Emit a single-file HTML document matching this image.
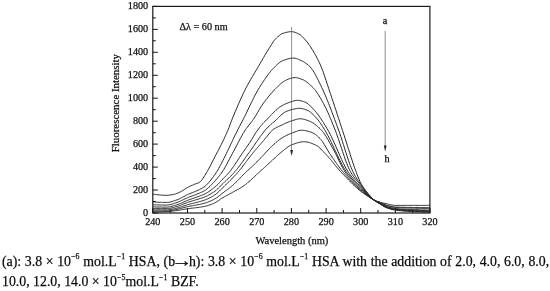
<!DOCTYPE html>
<html><head><meta charset="utf-8"><title>Fluorescence</title>
<style>
html,body{margin:0;padding:0;background:#fff;}
body{width:550px;height:291px;overflow:hidden;position:relative;font-family:"Liberation Serif",serif;color:#000;}
svg{position:absolute;left:0;top:0;}
svg text{font-family:"Liberation Serif",serif;font-size:10.2px;fill:#111;stroke:#111;stroke-width:0.25px;}
.cap{position:absolute;left:2px;width:640px;font-size:15.2px;line-height:20px;height:20px;white-space:nowrap;color:#0a0a0a;-webkit-text-stroke:0.25px #0a0a0a;transform-origin:0 0;transform:scaleX(0.91);}
.cap sup{font-size:8.6px;line-height:0;vertical-align:6.6px;margin:0 0.1px 0 0.2px;}
.ar{display:inline-block;transform:scaleX(1.5);-webkit-text-stroke:0.4px #0a0a0a;}
#l1{top:251px;word-spacing:0.2px;}
#l2{top:271.4px;word-spacing:0px;}
</style></head><body>
<svg width="550" height="291" viewBox="0 0 550 291">
<rect x="152.8" y="6.4" width="277.1" height="206.6" fill="none" stroke="#1a1a1a" stroke-width="1.2"/>
<g stroke="#111" stroke-width="1"><line x1="152.8" y1="213.0" x2="157.8" y2="213.0"/><line x1="152.8" y1="201.5" x2="155.8" y2="201.5"/><line x1="152.8" y1="190.0" x2="157.8" y2="190.0"/><line x1="152.8" y1="178.6" x2="155.8" y2="178.6"/><line x1="152.8" y1="167.1" x2="157.8" y2="167.1"/><line x1="152.8" y1="155.6" x2="155.8" y2="155.6"/><line x1="152.8" y1="144.1" x2="157.8" y2="144.1"/><line x1="152.8" y1="132.7" x2="155.8" y2="132.7"/><line x1="152.8" y1="121.2" x2="157.8" y2="121.2"/><line x1="152.8" y1="109.7" x2="155.8" y2="109.7"/><line x1="152.8" y1="98.2" x2="157.8" y2="98.2"/><line x1="152.8" y1="86.7" x2="155.8" y2="86.7"/><line x1="152.8" y1="75.3" x2="157.8" y2="75.3"/><line x1="152.8" y1="63.8" x2="155.8" y2="63.8"/><line x1="152.8" y1="52.3" x2="157.8" y2="52.3"/><line x1="152.8" y1="40.8" x2="155.8" y2="40.8"/><line x1="152.8" y1="29.4" x2="157.8" y2="29.4"/><line x1="152.8" y1="17.9" x2="155.8" y2="17.9"/><line x1="152.8" y1="6.4" x2="157.8" y2="6.4"/><line x1="152.8" y1="213.0" x2="152.8" y2="208.0"/><line x1="170.2" y1="213.0" x2="170.2" y2="210.0"/><line x1="187.5" y1="213.0" x2="187.5" y2="208.0"/><line x1="204.8" y1="213.0" x2="204.8" y2="210.0"/><line x1="222.1" y1="213.0" x2="222.1" y2="208.0"/><line x1="239.5" y1="213.0" x2="239.5" y2="210.0"/><line x1="256.8" y1="213.0" x2="256.8" y2="208.0"/><line x1="274.1" y1="213.0" x2="274.1" y2="210.0"/><line x1="291.4" y1="213.0" x2="291.4" y2="208.0"/><line x1="308.7" y1="213.0" x2="308.7" y2="210.0"/><line x1="326.1" y1="213.0" x2="326.1" y2="208.0"/><line x1="343.4" y1="213.0" x2="343.4" y2="210.0"/><line x1="360.7" y1="213.0" x2="360.7" y2="208.0"/><line x1="378.0" y1="213.0" x2="378.0" y2="210.0"/><line x1="395.4" y1="213.0" x2="395.4" y2="208.0"/><line x1="412.7" y1="213.0" x2="412.7" y2="210.0"/><line x1="430.0" y1="213.0" x2="430.0" y2="208.0"/></g>
<g fill="none" stroke="#262626" stroke-width="1" stroke-linejoin="round"><path d="M152.8,194.2 L153.7,194.3 L154.6,194.4 L155.4,194.5 L156.3,194.6 L157.2,194.7 L158.0,194.8 L158.9,194.9 L159.8,195.0 L160.6,195.0 L161.5,195.1 L162.4,195.2 L163.2,195.2 L164.1,195.3 L165.0,195.3 L165.8,195.3 L166.7,195.3 L167.6,195.3 L168.4,195.2 L169.3,195.2 L170.2,195.0 L171.0,194.9 L171.9,194.7 L172.8,194.6 L173.6,194.4 L174.5,194.2 L175.4,194.0 L176.2,193.7 L177.1,193.3 L178.0,193.0 L178.8,192.6 L179.7,192.2 L180.6,191.8 L181.4,191.3 L182.3,190.8 L183.2,190.3 L184.0,189.7 L184.9,189.1 L185.8,188.5 L186.6,188.0 L187.5,187.5 L188.4,187.1 L189.2,186.6 L190.1,186.2 L191.0,185.8 L191.8,185.4 L192.7,185.1 L193.6,184.7 L194.4,184.3 L195.3,184.0 L196.2,183.7 L197.0,183.4 L197.9,183.1 L198.8,182.7 L199.6,182.2 L200.5,181.6 L201.4,180.7 L202.2,179.5 L203.1,178.3 L203.9,176.9 L204.8,175.5 L205.7,174.0 L206.5,172.6 L207.4,171.2 L208.3,169.6 L209.1,168.1 L210.0,166.4 L210.9,164.7 L211.7,163.0 L212.6,161.3 L213.5,159.6 L214.3,157.9 L215.2,156.2 L216.1,154.6 L216.9,152.9 L217.8,151.3 L218.7,149.6 L219.5,147.9 L220.4,146.2 L221.3,144.5 L222.1,142.8 L223.0,141.0 L223.9,139.2 L224.7,137.3 L225.6,135.4 L226.5,133.5 L227.3,131.5 L228.2,129.5 L229.1,127.3 L229.9,124.9 L230.8,122.6 L231.7,120.3 L232.5,118.2 L233.4,116.1 L234.3,114.0 L235.1,111.9 L236.0,109.9 L236.9,107.8 L237.7,105.8 L238.6,103.8 L239.5,101.8 L240.3,99.9 L241.2,98.0 L242.1,96.1 L242.9,94.2 L243.8,92.4 L244.7,90.7 L245.5,88.9 L246.4,87.2 L247.3,85.6 L248.1,84.0 L249.0,82.4 L249.9,80.9 L250.7,79.4 L251.6,77.9 L252.5,76.5 L253.3,75.0 L254.2,73.6 L255.0,72.1 L255.9,70.7 L256.8,69.2 L257.6,67.8 L258.5,66.3 L259.4,64.8 L260.2,63.3 L261.1,61.8 L262.0,60.3 L262.8,58.8 L263.7,57.3 L264.6,55.8 L265.4,54.3 L266.3,52.9 L267.2,51.5 L268.0,50.1 L268.9,48.7 L269.8,47.3 L270.6,45.9 L271.5,44.5 L272.4,43.1 L273.2,41.8 L274.1,40.6 L275.0,39.6 L275.8,38.7 L276.7,37.8 L277.6,37.0 L278.4,36.2 L279.3,35.5 L280.2,34.8 L281.0,34.2 L281.9,33.8 L282.8,33.4 L283.6,33.1 L284.5,32.8 L285.4,32.6 L286.2,32.4 L287.1,32.2 L288.0,32.0 L288.8,31.9 L289.7,31.7 L290.6,31.7 L291.4,31.7 L292.3,31.7 L293.2,31.8 L294.0,32.0 L294.9,32.3 L295.8,32.6 L296.6,33.0 L297.5,33.3 L298.4,33.7 L299.2,34.2 L300.1,34.7 L301.0,35.4 L301.8,36.2 L302.7,37.1 L303.6,38.0 L304.4,38.9 L305.3,39.9 L306.1,40.9 L307.0,41.9 L307.9,43.0 L308.7,44.2 L309.6,45.4 L310.5,46.7 L311.3,48.0 L312.2,49.4 L313.1,50.8 L313.9,52.3 L314.8,53.8 L315.7,55.4 L316.5,57.0 L317.4,58.7 L318.3,60.4 L319.1,62.2 L320.0,64.1 L320.9,66.1 L321.7,68.2 L322.6,70.4 L323.5,72.8 L324.3,75.3 L325.2,77.9 L326.1,80.5 L326.9,83.2 L327.8,85.8 L328.7,88.4 L329.5,91.0 L330.4,93.6 L331.3,96.1 L332.1,98.8 L333.0,101.4 L333.9,104.0 L334.7,106.6 L335.6,109.3 L336.5,111.9 L337.3,114.6 L338.2,117.2 L339.1,119.9 L339.9,122.5 L340.8,125.2 L341.7,127.8 L342.5,130.4 L343.4,133.1 L344.3,135.8 L345.1,138.5 L346.0,141.2 L346.9,144.0 L347.7,146.7 L348.6,149.5 L349.5,152.2 L350.3,154.9 L351.2,157.6 L352.1,160.2 L352.9,162.8 L353.8,165.3 L354.6,167.8 L355.5,170.2 L356.4,172.5 L357.2,174.8 L358.1,177.0 L359.0,179.2 L359.8,181.2 L360.7,182.9 L361.6,184.5 L362.4,185.9 L363.3,187.3 L364.2,188.5 L365.0,189.7 L365.9,190.9 L366.8,192.0 L367.6,193.0 L368.5,194.1 L369.4,195.1 L370.2,196.1 L371.1,197.1 L372.0,198.0 L372.8,198.8 L373.7,199.6 L374.6,200.4 L375.4,201.0 L376.3,201.6 L377.2,202.2 L378.0,202.8 L378.9,203.3 L379.8,203.8 L380.6,204.4 L381.5,204.9 L382.4,205.5 L383.2,206.0 L384.1,206.6 L385.0,207.0 L385.8,207.5 L386.7,207.8 L387.6,208.1 L388.4,208.4 L389.3,208.7 L390.2,209.0 L391.0,209.2 L391.9,209.5 L392.8,209.7 L393.6,209.8 L394.5,210.0 L395.4,210.1 L396.2,210.2 L397.1,210.4 L398.0,210.5 L398.8,210.6 L399.7,210.7 L400.6,210.7 L401.4,210.8 L402.3,210.9 L403.2,211.0 L404.0,211.1 L404.9,211.1 L405.7,211.2 L406.6,211.3 L407.5,211.3 L408.3,211.4 L409.2,211.4 L410.1,211.5 L410.9,211.5 L411.8,211.6 L412.7,211.6 L413.5,211.7 L414.4,211.7 L415.3,211.8 L416.1,211.8 L417.0,211.8 L417.9,211.9 L418.7,211.9 L419.6,212.0 L420.5,212.0 L421.3,212.0 L422.2,212.1 L423.1,212.1 L423.9,212.1 L424.8,212.2 L425.7,212.2 L426.5,212.2 L427.4,212.3 L428.3,212.3 L429.1,212.3 L430.0,212.3"/><path d="M152.8,201.9 L153.7,201.9 L154.6,202.0 L155.4,202.1 L156.3,202.2 L157.2,202.2 L158.0,202.3 L158.9,202.3 L159.8,202.3 L160.6,202.3 L161.5,202.4 L162.4,202.4 L163.2,202.4 L164.1,202.4 L165.0,202.4 L165.8,202.4 L166.7,202.4 L167.6,202.4 L168.4,202.3 L169.3,202.2 L170.2,202.0 L171.0,201.8 L171.9,201.6 L172.8,201.3 L173.6,201.0 L174.5,200.7 L175.4,200.4 L176.2,200.1 L177.1,199.8 L178.0,199.5 L178.8,199.1 L179.7,198.7 L180.6,198.3 L181.4,197.8 L182.3,197.4 L183.2,196.9 L184.0,196.4 L184.9,196.0 L185.8,195.5 L186.6,195.0 L187.5,194.6 L188.4,194.2 L189.2,193.9 L190.1,193.5 L191.0,193.2 L191.8,192.8 L192.7,192.5 L193.6,192.1 L194.4,191.8 L195.3,191.4 L196.2,191.1 L197.0,190.7 L197.9,190.3 L198.8,189.9 L199.6,189.5 L200.5,189.0 L201.4,188.6 L202.2,188.1 L203.1,187.6 L203.9,187.0 L204.8,186.4 L205.7,185.7 L206.5,184.9 L207.4,184.0 L208.3,183.1 L209.1,182.2 L210.0,181.1 L210.9,180.1 L211.7,178.9 L212.6,177.8 L213.5,176.6 L214.3,175.3 L215.2,174.1 L216.1,172.8 L216.9,171.5 L217.8,170.1 L218.7,168.5 L219.5,166.9 L220.4,165.3 L221.3,163.6 L222.1,161.9 L223.0,160.3 L223.9,158.5 L224.7,156.8 L225.6,155.1 L226.5,153.3 L227.3,151.5 L228.2,149.7 L229.1,147.9 L229.9,146.0 L230.8,144.2 L231.7,142.4 L232.5,140.6 L233.4,138.7 L234.3,136.9 L235.1,135.1 L236.0,133.4 L236.9,131.6 L237.7,129.9 L238.6,128.2 L239.5,126.5 L240.3,124.9 L241.2,123.2 L242.1,121.6 L242.9,119.9 L243.8,118.2 L244.7,116.5 L245.5,114.7 L246.4,112.9 L247.3,111.1 L248.1,109.3 L249.0,107.5 L249.9,105.7 L250.7,103.9 L251.6,102.1 L252.5,100.4 L253.3,98.6 L254.2,96.9 L255.0,95.2 L255.9,93.6 L256.8,92.0 L257.6,90.5 L258.5,89.0 L259.4,87.6 L260.2,86.2 L261.1,84.9 L262.0,83.5 L262.8,82.2 L263.7,80.9 L264.6,79.6 L265.4,78.3 L266.3,77.1 L267.2,75.9 L268.0,74.7 L268.9,73.6 L269.8,72.5 L270.6,71.4 L271.5,70.4 L272.4,69.4 L273.2,68.5 L274.1,67.6 L275.0,66.7 L275.8,65.9 L276.7,65.1 L277.6,64.3 L278.4,63.5 L279.3,62.8 L280.2,62.1 L281.0,61.5 L281.9,61.0 L282.8,60.6 L283.6,60.3 L284.5,60.0 L285.4,59.7 L286.2,59.4 L287.1,59.1 L288.0,58.9 L288.8,58.7 L289.7,58.5 L290.6,58.3 L291.4,58.2 L292.3,58.1 L293.2,58.1 L294.0,58.1 L294.9,58.2 L295.8,58.4 L296.6,58.6 L297.5,58.9 L298.4,59.3 L299.2,59.7 L300.1,60.1 L301.0,60.5 L301.8,60.9 L302.7,61.3 L303.6,61.8 L304.4,62.3 L305.3,62.9 L306.1,63.5 L307.0,64.1 L307.9,64.8 L308.7,65.6 L309.6,66.4 L310.5,67.2 L311.3,68.3 L312.2,69.4 L313.1,70.7 L313.9,72.1 L314.8,73.6 L315.7,75.2 L316.5,76.8 L317.4,78.5 L318.3,80.3 L319.1,82.1 L320.0,83.9 L320.9,85.7 L321.7,87.5 L322.6,89.3 L323.5,91.2 L324.3,93.2 L325.2,95.1 L326.1,97.2 L326.9,99.3 L327.8,101.4 L328.7,103.6 L329.5,105.8 L330.4,108.0 L331.3,110.3 L332.1,112.6 L333.0,114.9 L333.9,117.2 L334.7,119.6 L335.6,121.9 L336.5,124.3 L337.3,126.6 L338.2,129.0 L339.1,131.3 L339.9,133.8 L340.8,136.4 L341.7,139.0 L342.5,141.7 L343.4,144.5 L344.3,147.2 L345.1,150.0 L346.0,152.8 L346.9,155.5 L347.7,158.1 L348.6,160.7 L349.5,163.2 L350.3,165.5 L351.2,167.7 L352.1,169.8 L352.9,171.7 L353.8,173.4 L354.6,175.0 L355.5,176.5 L356.4,177.9 L357.2,179.2 L358.1,180.5 L359.0,181.8 L359.8,183.1 L360.7,184.3 L361.6,185.6 L362.4,186.8 L363.3,188.0 L364.2,189.2 L365.0,190.3 L365.9,191.4 L366.8,192.5 L367.6,193.5 L368.5,194.5 L369.4,195.4 L370.2,196.4 L371.1,197.2 L372.0,198.1 L372.8,198.9 L373.7,199.7 L374.6,200.4 L375.4,201.0 L376.3,201.6 L377.2,202.1 L378.0,202.7 L378.9,203.2 L379.8,203.7 L380.6,204.2 L381.5,204.8 L382.4,205.3 L383.2,205.8 L384.1,206.3 L385.0,206.8 L385.8,207.2 L386.7,207.6 L387.6,207.9 L388.4,208.1 L389.3,208.4 L390.2,208.7 L391.0,208.9 L391.9,209.1 L392.8,209.3 L393.6,209.5 L394.5,209.7 L395.4,209.8 L396.2,209.9 L397.1,210.0 L398.0,210.1 L398.8,210.2 L399.7,210.3 L400.6,210.4 L401.4,210.5 L402.3,210.5 L403.2,210.6 L404.0,210.7 L404.9,210.7 L405.7,210.8 L406.6,210.8 L407.5,210.9 L408.3,211.0 L409.2,211.0 L410.1,211.1 L410.9,211.1 L411.8,211.1 L412.7,211.2 L413.5,211.2 L414.4,211.3 L415.3,211.3 L416.1,211.4 L417.0,211.4 L417.9,211.4 L418.7,211.5 L419.6,211.5 L420.5,211.5 L421.3,211.6 L422.2,211.6 L423.1,211.6 L423.9,211.7 L424.8,211.7 L425.7,211.7 L426.5,211.8 L427.4,211.8 L428.3,211.8 L429.1,211.8 L430.0,211.8"/><path d="M152.8,204.7 L153.7,204.8 L154.6,204.8 L155.4,204.8 L156.3,204.9 L157.2,204.9 L158.0,204.9 L158.9,204.9 L159.8,205.0 L160.6,205.0 L161.5,205.0 L162.4,205.0 L163.2,205.0 L164.1,205.1 L165.0,205.1 L165.8,205.1 L166.7,205.1 L167.6,205.0 L168.4,205.0 L169.3,204.8 L170.2,204.6 L171.0,204.4 L171.9,204.2 L172.8,203.9 L173.6,203.6 L174.5,203.3 L175.4,203.0 L176.2,202.7 L177.1,202.4 L178.0,202.1 L178.8,201.8 L179.7,201.4 L180.6,201.0 L181.4,200.6 L182.3,200.2 L183.2,199.8 L184.0,199.3 L184.9,198.9 L185.8,198.5 L186.6,198.1 L187.5,197.7 L188.4,197.4 L189.2,197.0 L190.1,196.7 L191.0,196.4 L191.8,196.1 L192.7,195.7 L193.6,195.4 L194.4,195.1 L195.3,194.8 L196.2,194.4 L197.0,194.1 L197.9,193.7 L198.8,193.4 L199.6,193.0 L200.5,192.6 L201.4,192.3 L202.2,191.9 L203.1,191.5 L203.9,191.0 L204.8,190.5 L205.7,189.9 L206.5,189.3 L207.4,188.6 L208.3,187.8 L209.1,187.0 L210.0,186.2 L210.9,185.3 L211.7,184.4 L212.6,183.5 L213.5,182.6 L214.3,181.7 L215.2,180.7 L216.1,179.8 L216.9,178.8 L217.8,177.7 L218.7,176.7 L219.5,175.6 L220.4,174.4 L221.3,173.3 L222.1,172.0 L223.0,170.7 L223.9,169.3 L224.7,167.9 L225.6,166.3 L226.5,164.8 L227.3,163.1 L228.2,161.5 L229.1,159.8 L229.9,158.2 L230.8,156.5 L231.7,154.9 L232.5,153.3 L233.4,151.7 L234.3,150.1 L235.1,148.5 L236.0,146.8 L236.9,145.1 L237.7,143.4 L238.6,141.8 L239.5,140.1 L240.3,138.5 L241.2,136.9 L242.1,135.3 L242.9,133.8 L243.8,132.4 L244.7,131.0 L245.5,129.6 L246.4,128.4 L247.3,127.2 L248.1,126.1 L249.0,125.0 L249.9,124.0 L250.7,122.9 L251.6,121.8 L252.5,120.6 L253.3,119.4 L254.2,118.1 L255.0,116.8 L255.9,115.3 L256.8,113.9 L257.6,112.4 L258.5,111.0 L259.4,109.5 L260.2,108.1 L261.1,106.7 L262.0,105.3 L262.8,104.0 L263.7,102.8 L264.6,101.6 L265.4,100.5 L266.3,99.4 L267.2,98.3 L268.0,97.2 L268.9,96.1 L269.8,95.1 L270.6,94.1 L271.5,93.1 L272.4,92.1 L273.2,91.1 L274.1,90.2 L275.0,89.3 L275.8,88.5 L276.7,87.6 L277.6,86.7 L278.4,85.9 L279.3,85.1 L280.2,84.3 L281.0,83.5 L281.9,82.8 L282.8,82.1 L283.6,81.5 L284.5,81.0 L285.4,80.5 L286.2,80.1 L287.1,79.7 L288.0,79.3 L288.8,78.9 L289.7,78.6 L290.6,78.4 L291.4,78.1 L292.3,77.9 L293.2,77.8 L294.0,77.6 L294.9,77.6 L295.8,77.6 L296.6,77.7 L297.5,77.9 L298.4,78.1 L299.2,78.4 L300.1,78.7 L301.0,79.0 L301.8,79.3 L302.7,79.6 L303.6,80.0 L304.4,80.5 L305.3,81.0 L306.1,81.6 L307.0,82.2 L307.9,82.9 L308.7,83.6 L309.6,84.4 L310.5,85.2 L311.3,86.0 L312.2,86.8 L313.1,87.7 L313.9,88.6 L314.8,89.6 L315.7,90.7 L316.5,91.9 L317.4,93.2 L318.3,94.5 L319.1,95.9 L320.0,97.3 L320.9,98.8 L321.7,100.4 L322.6,101.9 L323.5,103.5 L324.3,105.1 L325.2,106.8 L326.1,108.5 L326.9,110.4 L327.8,112.3 L328.7,114.2 L329.5,116.3 L330.4,118.3 L331.3,120.4 L332.1,122.6 L333.0,124.7 L333.9,126.9 L334.7,129.0 L335.6,131.2 L336.5,133.5 L337.3,135.9 L338.2,138.4 L339.1,140.9 L339.9,143.5 L340.8,146.1 L341.7,148.7 L342.5,151.3 L343.4,153.9 L344.3,156.5 L345.1,159.0 L346.0,161.4 L346.9,163.6 L347.7,165.8 L348.6,167.8 L349.5,169.7 L350.3,171.4 L351.2,172.9 L352.1,174.3 L352.9,175.6 L353.8,176.8 L354.6,178.0 L355.5,179.1 L356.4,180.2 L357.2,181.2 L358.1,182.3 L359.0,183.3 L359.8,184.4 L360.7,185.5 L361.6,186.6 L362.4,187.7 L363.3,188.8 L364.2,190.0 L365.0,191.1 L365.9,192.1 L366.8,193.1 L367.6,194.1 L368.5,195.0 L369.4,195.8 L370.2,196.7 L371.1,197.5 L372.0,198.3 L372.8,199.0 L373.7,199.7 L374.6,200.4 L375.4,201.0 L376.3,201.5 L377.2,202.1 L378.0,202.6 L378.9,203.1 L379.8,203.5 L380.6,204.0 L381.5,204.6 L382.4,205.1 L383.2,205.6 L384.1,206.1 L385.0,206.5 L385.8,206.9 L386.7,207.2 L387.6,207.5 L388.4,207.8 L389.3,208.1 L390.2,208.3 L391.0,208.6 L391.9,208.8 L392.8,209.0 L393.6,209.2 L394.5,209.3 L395.4,209.4 L396.2,209.5 L397.1,209.6 L398.0,209.7 L398.8,209.8 L399.7,209.9 L400.6,210.0 L401.4,210.0 L402.3,210.1 L403.2,210.2 L404.0,210.2 L404.9,210.3 L405.7,210.3 L406.6,210.4 L407.5,210.4 L408.3,210.5 L409.2,210.5 L410.1,210.6 L410.9,210.6 L411.8,210.7 L412.7,210.7 L413.5,210.7 L414.4,210.8 L415.3,210.8 L416.1,210.8 L417.0,210.9 L417.9,210.9 L418.7,211.0 L419.6,211.0 L420.5,211.0 L421.3,211.0 L422.2,211.1 L423.1,211.1 L423.9,211.1 L424.8,211.2 L425.7,211.2 L426.5,211.2 L427.4,211.2 L428.3,211.2 L429.1,211.2 L430.0,211.3"/><path d="M152.8,206.9 L153.7,206.9 L154.6,206.9 L155.4,207.0 L156.3,207.0 L157.2,207.0 L158.0,207.0 L158.9,207.0 L159.8,207.0 L160.6,207.0 L161.5,207.1 L162.4,207.1 L163.2,207.1 L164.1,207.1 L165.0,207.1 L165.8,207.1 L166.7,207.1 L167.6,207.1 L168.4,207.0 L169.3,206.9 L170.2,206.8 L171.0,206.6 L171.9,206.3 L172.8,206.1 L173.6,205.8 L174.5,205.5 L175.4,205.3 L176.2,205.0 L177.1,204.7 L178.0,204.5 L178.8,204.1 L179.7,203.8 L180.6,203.4 L181.4,203.1 L182.3,202.7 L183.2,202.3 L184.0,201.9 L184.9,201.5 L185.8,201.1 L186.6,200.7 L187.5,200.4 L188.4,200.0 L189.2,199.7 L190.1,199.4 L191.0,199.1 L191.8,198.8 L192.7,198.5 L193.6,198.2 L194.4,197.9 L195.3,197.6 L196.2,197.3 L197.0,197.0 L197.9,196.7 L198.8,196.4 L199.6,196.1 L200.5,195.7 L201.4,195.4 L202.2,195.1 L203.1,194.7 L203.9,194.4 L204.8,193.9 L205.7,193.5 L206.5,193.0 L207.4,192.5 L208.3,192.0 L209.1,191.4 L210.0,190.8 L210.9,190.2 L211.7,189.6 L212.6,188.9 L213.5,188.2 L214.3,187.5 L215.2,186.8 L216.1,186.1 L216.9,185.2 L217.8,184.4 L218.7,183.5 L219.5,182.5 L220.4,181.6 L221.3,180.6 L222.1,179.7 L223.0,178.8 L223.9,177.9 L224.7,177.1 L225.6,176.2 L226.5,175.3 L227.3,174.4 L228.2,173.4 L229.1,172.4 L229.9,171.4 L230.8,170.3 L231.7,169.1 L232.5,167.9 L233.4,166.7 L234.3,165.5 L235.1,164.2 L236.0,162.9 L236.9,161.6 L237.7,160.2 L238.6,158.9 L239.5,157.6 L240.3,156.3 L241.2,155.0 L242.1,153.7 L242.9,152.4 L243.8,151.2 L244.7,149.9 L245.5,148.7 L246.4,147.5 L247.3,146.2 L248.1,145.0 L249.0,143.7 L249.9,142.4 L250.7,141.1 L251.6,139.7 L252.5,138.2 L253.3,136.8 L254.2,135.3 L255.0,133.9 L255.9,132.6 L256.8,131.3 L257.6,130.1 L258.5,128.9 L259.4,127.7 L260.2,126.6 L261.1,125.6 L262.0,124.6 L262.8,123.6 L263.7,122.7 L264.6,121.8 L265.4,121.0 L266.3,120.1 L267.2,119.2 L268.0,118.3 L268.9,117.3 L269.8,116.4 L270.6,115.5 L271.5,114.6 L272.4,113.7 L273.2,112.8 L274.1,112.0 L275.0,111.2 L275.8,110.4 L276.7,109.6 L277.6,108.8 L278.4,108.1 L279.3,107.4 L280.2,106.8 L281.0,106.3 L281.9,105.8 L282.8,105.3 L283.6,104.8 L284.5,104.4 L285.4,104.0 L286.2,103.6 L287.1,103.2 L288.0,102.9 L288.8,102.5 L289.7,102.2 L290.6,101.9 L291.4,101.7 L292.3,101.4 L293.2,101.1 L294.0,100.9 L294.9,100.6 L295.8,100.4 L296.6,100.3 L297.5,100.3 L298.4,100.3 L299.2,100.4 L300.1,100.6 L301.0,100.8 L301.8,101.0 L302.7,101.3 L303.6,101.6 L304.4,101.9 L305.3,102.2 L306.1,102.6 L307.0,103.1 L307.9,103.8 L308.7,104.5 L309.6,105.2 L310.5,106.1 L311.3,106.9 L312.2,107.9 L313.1,108.8 L313.9,109.7 L314.8,110.6 L315.7,111.7 L316.5,112.7 L317.4,113.8 L318.3,115.0 L319.1,116.2 L320.0,117.4 L320.9,118.7 L321.7,120.0 L322.6,121.4 L323.5,122.7 L324.3,124.1 L325.2,125.6 L326.1,127.0 L326.9,128.4 L327.8,129.9 L328.7,131.4 L329.5,133.0 L330.4,134.7 L331.3,136.4 L332.1,138.2 L333.0,140.1 L333.9,142.0 L334.7,143.9 L335.6,145.9 L336.5,147.9 L337.3,149.9 L338.2,151.8 L339.1,153.8 L339.9,155.8 L340.8,157.7 L341.7,159.6 L342.5,161.5 L343.4,163.3 L344.3,165.0 L345.1,166.7 L346.0,168.3 L346.9,169.8 L347.7,171.2 L348.6,172.5 L349.5,173.8 L350.3,175.0 L351.2,176.1 L352.1,177.2 L352.9,178.3 L353.8,179.4 L354.6,180.4 L355.5,181.4 L356.4,182.3 L357.2,183.3 L358.1,184.3 L359.0,185.2 L359.8,186.2 L360.7,187.2 L361.6,188.2 L362.4,189.1 L363.3,190.1 L364.2,191.1 L365.0,192.0 L365.9,192.9 L366.8,193.8 L367.6,194.6 L368.5,195.4 L369.4,196.2 L370.2,197.0 L371.1,197.7 L372.0,198.4 L372.8,199.1 L373.7,199.8 L374.6,200.4 L375.4,200.9 L376.3,201.5 L377.2,202.0 L378.0,202.5 L378.9,202.9 L379.8,203.4 L380.6,203.9 L381.5,204.4 L382.4,204.9 L383.2,205.3 L384.1,205.8 L385.0,206.2 L385.8,206.6 L386.7,206.9 L387.6,207.2 L388.4,207.5 L389.3,207.7 L390.2,208.0 L391.0,208.2 L391.9,208.4 L392.8,208.6 L393.6,208.8 L394.5,208.9 L395.4,209.0 L396.2,209.1 L397.1,209.2 L398.0,209.3 L398.8,209.4 L399.7,209.5 L400.6,209.5 L401.4,209.6 L402.3,209.7 L403.2,209.7 L404.0,209.8 L404.9,209.8 L405.7,209.9 L406.6,209.9 L407.5,210.0 L408.3,210.0 L409.2,210.0 L410.1,210.1 L410.9,210.1 L411.8,210.2 L412.7,210.2 L413.5,210.2 L414.4,210.3 L415.3,210.3 L416.1,210.3 L417.0,210.4 L417.9,210.4 L418.7,210.4 L419.6,210.5 L420.5,210.5 L421.3,210.5 L422.2,210.5 L423.1,210.6 L423.9,210.6 L424.8,210.6 L425.7,210.6 L426.5,210.6 L427.4,210.7 L428.3,210.7 L429.1,210.7 L430.0,210.7"/><path d="M152.8,208.5 L153.7,208.5 L154.6,208.6 L155.4,208.6 L156.3,208.6 L157.2,208.6 L158.0,208.6 L158.9,208.6 L159.8,208.6 L160.6,208.6 L161.5,208.6 L162.4,208.6 L163.2,208.6 L164.1,208.6 L165.0,208.6 L165.8,208.6 L166.7,208.6 L167.6,208.6 L168.4,208.5 L169.3,208.4 L170.2,208.3 L171.0,208.1 L171.9,207.9 L172.8,207.7 L173.6,207.4 L174.5,207.2 L175.4,206.9 L176.2,206.7 L177.1,206.5 L178.0,206.2 L178.8,205.9 L179.7,205.6 L180.6,205.3 L181.4,204.9 L182.3,204.5 L183.2,204.2 L184.0,203.8 L184.9,203.4 L185.8,203.1 L186.6,202.8 L187.5,202.4 L188.4,202.1 L189.2,201.9 L190.1,201.6 L191.0,201.3 L191.8,201.1 L192.7,200.8 L193.6,200.5 L194.4,200.3 L195.3,200.0 L196.2,199.8 L197.0,199.5 L197.9,199.2 L198.8,199.0 L199.6,198.7 L200.5,198.4 L201.4,198.2 L202.2,197.9 L203.1,197.6 L203.9,197.3 L204.8,196.9 L205.7,196.6 L206.5,196.2 L207.4,195.8 L208.3,195.3 L209.1,194.8 L210.0,194.4 L210.9,193.9 L211.7,193.3 L212.6,192.8 L213.5,192.2 L214.3,191.6 L215.2,191.0 L216.1,190.3 L216.9,189.5 L217.8,188.7 L218.7,187.8 L219.5,187.0 L220.4,186.1 L221.3,185.2 L222.1,184.3 L223.0,183.5 L223.9,182.6 L224.7,181.8 L225.6,181.0 L226.5,180.2 L227.3,179.4 L228.2,178.6 L229.1,177.8 L229.9,176.9 L230.8,176.1 L231.7,175.2 L232.5,174.3 L233.4,173.4 L234.3,172.4 L235.1,171.4 L236.0,170.4 L236.9,169.4 L237.7,168.3 L238.6,167.1 L239.5,166.0 L240.3,164.8 L241.2,163.7 L242.1,162.5 L242.9,161.3 L243.8,160.0 L244.7,158.8 L245.5,157.6 L246.4,156.3 L247.3,155.1 L248.1,153.9 L249.0,152.7 L249.9,151.5 L250.7,150.3 L251.6,149.1 L252.5,147.9 L253.3,146.6 L254.2,145.4 L255.0,144.1 L255.9,142.8 L256.8,141.6 L257.6,140.3 L258.5,139.0 L259.4,137.8 L260.2,136.6 L261.1,135.4 L262.0,134.2 L262.8,133.1 L263.7,132.0 L264.6,130.9 L265.4,129.9 L266.3,128.9 L267.2,128.0 L268.0,127.1 L268.9,126.3 L269.8,125.5 L270.6,124.6 L271.5,123.9 L272.4,123.2 L273.2,122.4 L274.1,121.7 L275.0,121.0 L275.8,120.2 L276.7,119.4 L277.6,118.5 L278.4,117.6 L279.3,116.7 L280.2,115.9 L281.0,115.1 L281.9,114.3 L282.8,113.6 L283.6,113.0 L284.5,112.4 L285.4,111.9 L286.2,111.5 L287.1,111.1 L288.0,110.8 L288.8,110.5 L289.7,110.2 L290.6,109.9 L291.4,109.7 L292.3,109.5 L293.2,109.3 L294.0,109.1 L294.9,108.9 L295.8,108.7 L296.6,108.6 L297.5,108.4 L298.4,108.4 L299.2,108.3 L300.1,108.3 L301.0,108.4 L301.8,108.6 L302.7,108.7 L303.6,109.0 L304.4,109.2 L305.3,109.5 L306.1,109.8 L307.0,110.1 L307.9,110.5 L308.7,110.9 L309.6,111.5 L310.5,112.2 L311.3,112.9 L312.2,113.7 L313.1,114.5 L313.9,115.4 L314.8,116.3 L315.7,117.2 L316.5,118.1 L317.4,119.1 L318.3,120.2 L319.1,121.4 L320.0,122.7 L320.9,123.9 L321.7,125.2 L322.6,126.6 L323.5,128.0 L324.3,129.3 L325.2,130.7 L326.1,132.2 L326.9,133.8 L327.8,135.4 L328.7,137.0 L329.5,138.7 L330.4,140.5 L331.3,142.3 L332.1,144.1 L333.0,145.9 L333.9,147.8 L334.7,149.6 L335.6,151.5 L336.5,153.3 L337.3,155.2 L338.2,157.0 L339.1,158.8 L339.9,160.5 L340.8,162.2 L341.7,163.9 L342.5,165.5 L343.4,167.1 L344.3,168.5 L345.1,169.9 L346.0,171.3 L346.9,172.5 L347.7,173.7 L348.6,174.8 L349.5,175.9 L350.3,177.0 L351.2,178.0 L352.1,179.1 L352.9,180.0 L353.8,181.0 L354.6,181.9 L355.5,182.9 L356.4,183.8 L357.2,184.7 L358.1,185.6 L359.0,186.5 L359.8,187.4 L360.7,188.3 L361.6,189.2 L362.4,190.2 L363.3,191.1 L364.2,191.9 L365.0,192.8 L365.9,193.6 L366.8,194.4 L367.6,195.2 L368.5,195.9 L369.4,196.6 L370.2,197.3 L371.1,198.0 L372.0,198.6 L372.8,199.2 L373.7,199.8 L374.6,200.4 L375.4,200.9 L376.3,201.4 L377.2,201.9 L378.0,202.3 L378.9,202.8 L379.8,203.2 L380.6,203.7 L381.5,204.1 L382.4,204.6 L383.2,205.0 L384.1,205.4 L385.0,205.8 L385.8,206.2 L386.7,206.5 L387.6,206.8 L388.4,207.1 L389.3,207.3 L390.2,207.6 L391.0,207.8 L391.9,208.0 L392.8,208.2 L393.6,208.3 L394.5,208.5 L395.4,208.6 L396.2,208.7 L397.1,208.7 L398.0,208.8 L398.8,208.9 L399.7,208.9 L400.6,209.0 L401.4,209.1 L402.3,209.1 L403.2,209.2 L404.0,209.2 L404.9,209.3 L405.7,209.3 L406.6,209.3 L407.5,209.4 L408.3,209.4 L409.2,209.5 L410.1,209.5 L410.9,209.5 L411.8,209.5 L412.7,209.6 L413.5,209.6 L414.4,209.6 L415.3,209.7 L416.1,209.7 L417.0,209.7 L417.9,209.7 L418.7,209.8 L419.6,209.8 L420.5,209.8 L421.3,209.8 L422.2,209.9 L423.1,209.9 L423.9,209.9 L424.8,209.9 L425.7,209.9 L426.5,210.0 L427.4,210.0 L428.3,210.0 L429.1,210.0 L430.0,210.0"/><path d="M152.8,209.9 L153.7,209.9 L154.6,209.9 L155.4,209.9 L156.3,209.9 L157.2,209.9 L158.0,209.9 L158.9,209.9 L159.8,209.9 L160.6,209.9 L161.5,209.9 L162.4,209.9 L163.2,209.9 L164.1,209.9 L165.0,209.9 L165.8,209.9 L166.7,209.9 L167.6,209.9 L168.4,209.8 L169.3,209.7 L170.2,209.6 L171.0,209.4 L171.9,209.3 L172.8,209.1 L173.6,208.9 L174.5,208.7 L175.4,208.5 L176.2,208.3 L177.1,208.1 L178.0,207.9 L178.8,207.6 L179.7,207.3 L180.6,207.1 L181.4,206.8 L182.3,206.5 L183.2,206.2 L184.0,205.9 L184.9,205.6 L185.8,205.3 L186.6,205.0 L187.5,204.7 L188.4,204.5 L189.2,204.3 L190.1,204.0 L191.0,203.8 L191.8,203.6 L192.7,203.4 L193.6,203.2 L194.4,203.0 L195.3,202.8 L196.2,202.6 L197.0,202.3 L197.9,202.1 L198.8,201.9 L199.6,201.6 L200.5,201.4 L201.4,201.1 L202.2,200.9 L203.1,200.6 L203.9,200.3 L204.8,200.0 L205.7,199.7 L206.5,199.3 L207.4,199.0 L208.3,198.6 L209.1,198.2 L210.0,197.7 L210.9,197.3 L211.7,196.8 L212.6,196.3 L213.5,195.8 L214.3,195.2 L215.2,194.6 L216.1,194.0 L216.9,193.3 L217.8,192.5 L218.7,191.7 L219.5,190.9 L220.4,190.0 L221.3,189.2 L222.1,188.3 L223.0,187.5 L223.9,186.7 L224.7,185.8 L225.6,185.0 L226.5,184.1 L227.3,183.3 L228.2,182.4 L229.1,181.6 L229.9,180.7 L230.8,179.8 L231.7,179.0 L232.5,178.1 L233.4,177.1 L234.3,176.2 L235.1,175.3 L236.0,174.4 L236.9,173.4 L237.7,172.4 L238.6,171.4 L239.5,170.4 L240.3,169.3 L241.2,168.3 L242.1,167.2 L242.9,166.0 L243.8,164.9 L244.7,163.7 L245.5,162.6 L246.4,161.4 L247.3,160.3 L248.1,159.1 L249.0,158.0 L249.9,156.8 L250.7,155.7 L251.6,154.6 L252.5,153.5 L253.3,152.5 L254.2,151.4 L255.0,150.4 L255.9,149.4 L256.8,148.4 L257.6,147.4 L258.5,146.4 L259.4,145.4 L260.2,144.4 L261.1,143.4 L262.0,142.4 L262.8,141.4 L263.7,140.4 L264.6,139.4 L265.4,138.4 L266.3,137.3 L267.2,136.2 L268.0,135.1 L268.9,134.0 L269.8,132.9 L270.6,131.9 L271.5,131.0 L272.4,130.2 L273.2,129.5 L274.1,128.9 L275.0,128.4 L275.8,127.9 L276.7,127.4 L277.6,127.0 L278.4,126.6 L279.3,126.2 L280.2,125.8 L281.0,125.4 L281.9,125.0 L282.8,124.6 L283.6,124.1 L284.5,123.7 L285.4,123.3 L286.2,123.0 L287.1,122.6 L288.0,122.2 L288.8,121.9 L289.7,121.5 L290.6,121.2 L291.4,120.9 L292.3,120.7 L293.2,120.4 L294.0,120.1 L294.9,119.8 L295.8,119.6 L296.6,119.3 L297.5,119.1 L298.4,118.9 L299.2,118.8 L300.1,118.8 L301.0,118.8 L301.8,118.9 L302.7,119.0 L303.6,119.2 L304.4,119.4 L305.3,119.6 L306.1,119.9 L307.0,120.2 L307.9,120.6 L308.7,120.9 L309.6,121.2 L310.5,121.6 L311.3,122.0 L312.2,122.5 L313.1,123.0 L313.9,123.6 L314.8,124.2 L315.7,124.9 L316.5,125.6 L317.4,126.3 L318.3,127.1 L319.1,127.9 L320.0,128.7 L320.9,129.6 L321.7,130.4 L322.6,131.5 L323.5,132.6 L324.3,133.8 L325.2,135.1 L326.1,136.5 L326.9,137.9 L327.8,139.4 L328.7,141.0 L329.5,142.5 L330.4,144.1 L331.3,145.6 L332.1,147.2 L333.0,148.7 L333.9,150.3 L334.7,151.9 L335.6,153.6 L336.5,155.4 L337.3,157.2 L338.2,159.0 L339.1,160.9 L339.9,162.6 L340.8,164.4 L341.7,166.1 L342.5,167.7 L343.4,169.3 L344.3,170.7 L345.1,172.0 L346.0,173.2 L346.9,174.4 L347.7,175.5 L348.6,176.6 L349.5,177.7 L350.3,178.7 L351.2,179.7 L352.1,180.7 L352.9,181.6 L353.8,182.6 L354.6,183.5 L355.5,184.4 L356.4,185.2 L357.2,186.1 L358.1,186.9 L359.0,187.8 L359.8,188.6 L360.7,189.5 L361.6,190.3 L362.4,191.1 L363.3,191.9 L364.2,192.7 L365.0,193.4 L365.9,194.2 L366.8,194.9 L367.6,195.6 L368.5,196.2 L369.4,196.9 L370.2,197.5 L371.1,198.2 L372.0,198.8 L372.8,199.3 L373.7,199.9 L374.6,200.4 L375.4,200.8 L376.3,201.3 L377.2,201.7 L378.0,202.0 L378.9,202.4 L379.8,202.8 L380.6,203.2 L381.5,203.6 L382.4,203.9 L383.2,204.3 L384.1,204.7 L385.0,205.0 L385.8,205.3 L386.7,205.6 L387.6,205.8 L388.4,206.1 L389.3,206.3 L390.2,206.6 L391.0,206.8 L391.9,207.0 L392.8,207.2 L393.6,207.3 L394.5,207.4 L395.4,207.5 L396.2,207.6 L397.1,207.6 L398.0,207.7 L398.8,207.7 L399.7,207.8 L400.6,207.8 L401.4,207.8 L402.3,207.9 L403.2,207.9 L404.0,207.9 L404.9,208.0 L405.7,208.0 L406.6,208.0 L407.5,208.0 L408.3,208.1 L409.2,208.1 L410.1,208.1 L410.9,208.1 L411.8,208.1 L412.7,208.2 L413.5,208.2 L414.4,208.2 L415.3,208.2 L416.1,208.2 L417.0,208.2 L417.9,208.3 L418.7,208.3 L419.6,208.3 L420.5,208.3 L421.3,208.3 L422.2,208.3 L423.1,208.3 L423.9,208.3 L424.8,208.4 L425.7,208.4 L426.5,208.4 L427.4,208.4 L428.3,208.4 L429.1,208.4 L430.0,208.4"/><path d="M152.8,211.0 L153.7,211.0 L154.6,211.0 L155.4,211.0 L156.3,211.0 L157.2,211.0 L158.0,211.0 L158.9,211.0 L159.8,211.0 L160.6,211.0 L161.5,211.0 L162.4,211.0 L163.2,211.0 L164.1,211.0 L165.0,211.0 L165.8,211.0 L166.7,210.9 L167.6,210.9 L168.4,210.8 L169.3,210.7 L170.2,210.6 L171.0,210.5 L171.9,210.3 L172.8,210.2 L173.6,210.0 L174.5,209.8 L175.4,209.7 L176.2,209.5 L177.1,209.3 L178.0,209.1 L178.8,209.0 L179.7,208.7 L180.6,208.5 L181.4,208.3 L182.3,208.0 L183.2,207.8 L184.0,207.6 L184.9,207.3 L185.8,207.1 L186.6,206.9 L187.5,206.7 L188.4,206.5 L189.2,206.3 L190.1,206.2 L191.0,206.0 L191.8,205.9 L192.7,205.7 L193.6,205.6 L194.4,205.4 L195.3,205.2 L196.2,205.1 L197.0,204.9 L197.9,204.7 L198.8,204.6 L199.6,204.4 L200.5,204.2 L201.4,204.0 L202.2,203.8 L203.1,203.6 L203.9,203.4 L204.8,203.1 L205.7,202.9 L206.5,202.6 L207.4,202.3 L208.3,201.9 L209.1,201.6 L210.0,201.2 L210.9,200.8 L211.7,200.4 L212.6,200.0 L213.5,199.6 L214.3,199.1 L215.2,198.7 L216.1,198.1 L216.9,197.6 L217.8,196.9 L218.7,196.2 L219.5,195.6 L220.4,194.9 L221.3,194.2 L222.1,193.5 L223.0,192.8 L223.9,192.2 L224.7,191.5 L225.6,190.9 L226.5,190.3 L227.3,189.6 L228.2,189.0 L229.1,188.3 L229.9,187.6 L230.8,186.9 L231.7,186.2 L232.5,185.5 L233.4,184.7 L234.3,183.9 L235.1,183.1 L236.0,182.2 L236.9,181.4 L237.7,180.5 L238.6,179.6 L239.5,178.7 L240.3,177.8 L241.2,176.9 L242.1,176.0 L242.9,175.1 L243.8,174.2 L244.7,173.4 L245.5,172.5 L246.4,171.7 L247.3,170.9 L248.1,170.1 L249.0,169.3 L249.9,168.5 L250.7,167.8 L251.6,167.0 L252.5,166.2 L253.3,165.4 L254.2,164.5 L255.0,163.7 L255.9,162.8 L256.8,162.0 L257.6,161.1 L258.5,160.2 L259.4,159.3 L260.2,158.4 L261.1,157.5 L262.0,156.6 L262.8,155.7 L263.7,154.8 L264.6,153.8 L265.4,152.9 L266.3,151.9 L267.2,151.0 L268.0,150.1 L268.9,149.2 L269.8,148.3 L270.6,147.4 L271.5,146.6 L272.4,145.7 L273.2,144.9 L274.1,144.1 L275.0,143.4 L275.8,142.6 L276.7,141.9 L277.6,141.2 L278.4,140.5 L279.3,139.8 L280.2,139.2 L281.0,138.6 L281.9,138.0 L282.8,137.5 L283.6,136.9 L284.5,136.5 L285.4,136.0 L286.2,135.5 L287.1,135.1 L288.0,134.7 L288.8,134.3 L289.7,133.9 L290.6,133.6 L291.4,133.2 L292.3,132.9 L293.2,132.6 L294.0,132.2 L294.9,131.9 L295.8,131.6 L296.6,131.3 L297.5,131.0 L298.4,130.7 L299.2,130.5 L300.1,130.4 L301.0,130.3 L301.8,130.2 L302.7,130.3 L303.6,130.3 L304.4,130.4 L305.3,130.6 L306.1,130.8 L307.0,131.0 L307.9,131.2 L308.7,131.5 L309.6,131.7 L310.5,132.0 L311.3,132.3 L312.2,132.7 L313.1,133.0 L313.9,133.5 L314.8,134.0 L315.7,134.7 L316.5,135.3 L317.4,136.1 L318.3,136.9 L319.1,137.8 L320.0,138.6 L320.9,139.5 L321.7,140.6 L322.6,141.7 L323.5,143.1 L324.3,144.5 L325.2,146.0 L326.1,147.5 L326.9,149.0 L327.8,150.5 L328.7,152.0 L329.5,153.3 L330.4,154.6 L331.3,155.9 L332.1,157.2 L333.0,158.4 L333.9,159.7 L334.7,160.9 L335.6,162.2 L336.5,163.4 L337.3,164.6 L338.2,165.8 L339.1,167.0 L339.9,168.1 L340.8,169.2 L341.7,170.3 L342.5,171.4 L343.4,172.4 L344.3,173.5 L345.1,174.5 L346.0,175.5 L346.9,176.5 L347.7,177.5 L348.6,178.5 L349.5,179.5 L350.3,180.4 L351.2,181.4 L352.1,182.3 L352.9,183.2 L353.8,184.1 L354.6,185.0 L355.5,185.8 L356.4,186.7 L357.2,187.5 L358.1,188.3 L359.0,189.1 L359.8,189.9 L360.7,190.6 L361.6,191.3 L362.4,192.0 L363.3,192.7 L364.2,193.3 L365.0,194.0 L365.9,194.6 L366.8,195.2 L367.6,195.8 L368.5,196.4 L369.4,197.0 L370.2,197.6 L371.1,198.2 L372.0,198.8 L372.8,199.4 L373.7,199.9 L374.6,200.4 L375.4,200.8 L376.3,201.2 L377.2,201.6 L378.0,201.9 L378.9,202.2 L379.8,202.6 L380.6,202.9 L381.5,203.3 L382.4,203.6 L383.2,204.0 L384.1,204.3 L385.0,204.6 L385.8,204.9 L386.7,205.1 L387.6,205.4 L388.4,205.6 L389.3,205.9 L390.2,206.1 L391.0,206.3 L391.9,206.5 L392.8,206.7 L393.6,206.8 L394.5,206.9 L395.4,207.0 L396.2,207.0 L397.1,207.1 L398.0,207.1 L398.8,207.1 L399.7,207.2 L400.6,207.2 L401.4,207.2 L402.3,207.3 L403.2,207.3 L404.0,207.3 L404.9,207.3 L405.7,207.4 L406.6,207.4 L407.5,207.4 L408.3,207.4 L409.2,207.4 L410.1,207.4 L410.9,207.4 L411.8,207.5 L412.7,207.5 L413.5,207.5 L414.4,207.5 L415.3,207.5 L416.1,207.5 L417.0,207.5 L417.9,207.5 L418.7,207.5 L419.6,207.6 L420.5,207.6 L421.3,207.6 L422.2,207.6 L423.1,207.6 L423.9,207.6 L424.8,207.6 L425.7,207.6 L426.5,207.6 L427.4,207.6 L428.3,207.6 L429.1,207.6 L430.0,207.6"/><path d="M152.8,211.9 L153.7,211.9 L154.6,211.9 L155.4,211.9 L156.3,211.9 L157.2,211.9 L158.0,211.9 L158.9,211.9 L159.8,211.9 L160.6,211.8 L161.5,211.8 L162.4,211.8 L163.2,211.8 L164.1,211.7 L165.0,211.7 L165.8,211.7 L166.7,211.6 L167.6,211.6 L168.4,211.5 L169.3,211.4 L170.2,211.4 L171.0,211.3 L171.9,211.2 L172.8,211.1 L173.6,210.9 L174.5,210.8 L175.4,210.7 L176.2,210.6 L177.1,210.5 L178.0,210.4 L178.8,210.2 L179.7,210.1 L180.6,209.9 L181.4,209.8 L182.3,209.6 L183.2,209.5 L184.0,209.3 L184.9,209.2 L185.8,209.0 L186.6,208.9 L187.5,208.8 L188.4,208.6 L189.2,208.5 L190.1,208.4 L191.0,208.3 L191.8,208.2 L192.7,208.1 L193.6,208.0 L194.4,207.9 L195.3,207.8 L196.2,207.7 L197.0,207.6 L197.9,207.5 L198.8,207.4 L199.6,207.2 L200.5,207.1 L201.4,207.0 L202.2,206.8 L203.1,206.7 L203.9,206.5 L204.8,206.3 L205.7,206.1 L206.5,205.9 L207.4,205.7 L208.3,205.4 L209.1,205.1 L210.0,204.8 L210.9,204.5 L211.7,204.2 L212.6,203.8 L213.5,203.5 L214.3,203.1 L215.2,202.7 L216.1,202.2 L216.9,201.7 L217.8,201.1 L218.7,200.5 L219.5,199.9 L220.4,199.2 L221.3,198.6 L222.1,198.1 L223.0,197.6 L223.9,197.1 L224.7,196.6 L225.6,196.1 L226.5,195.6 L227.3,195.2 L228.2,194.7 L229.1,194.2 L229.9,193.8 L230.8,193.3 L231.7,192.8 L232.5,192.3 L233.4,191.9 L234.3,191.4 L235.1,190.9 L236.0,190.4 L236.9,190.0 L237.7,189.5 L238.6,189.0 L239.5,188.5 L240.3,188.0 L241.2,187.5 L242.1,186.9 L242.9,186.4 L243.8,185.8 L244.7,185.1 L245.5,184.5 L246.4,183.8 L247.3,183.1 L248.1,182.3 L249.0,181.6 L249.9,180.9 L250.7,180.1 L251.6,179.3 L252.5,178.5 L253.3,177.7 L254.2,176.9 L255.0,176.1 L255.9,175.3 L256.8,174.4 L257.6,173.6 L258.5,172.8 L259.4,172.0 L260.2,171.3 L261.1,170.5 L262.0,169.7 L262.8,168.9 L263.7,168.2 L264.6,167.4 L265.4,166.6 L266.3,165.8 L267.2,165.0 L268.0,164.2 L268.9,163.4 L269.8,162.6 L270.6,161.8 L271.5,161.0 L272.4,160.2 L273.2,159.4 L274.1,158.6 L275.0,157.8 L275.8,157.0 L276.7,156.2 L277.6,155.4 L278.4,154.7 L279.3,153.9 L280.2,153.2 L281.0,152.4 L281.9,151.7 L282.8,151.0 L283.6,150.3 L284.5,149.6 L285.4,148.9 L286.2,148.2 L287.1,147.6 L288.0,146.9 L288.8,146.3 L289.7,145.8 L290.6,145.3 L291.4,144.9 L292.3,144.6 L293.2,144.3 L294.0,144.0 L294.9,143.7 L295.8,143.4 L296.6,143.1 L297.5,142.8 L298.4,142.6 L299.2,142.4 L300.1,142.2 L301.0,142.0 L301.8,141.9 L302.7,141.8 L303.6,141.7 L304.4,141.7 L305.3,141.8 L306.1,141.9 L307.0,142.0 L307.9,142.2 L308.7,142.4 L309.6,142.6 L310.5,142.9 L311.3,143.2 L312.2,143.6 L313.1,143.9 L313.9,144.3 L314.8,144.7 L315.7,145.1 L316.5,145.5 L317.4,146.0 L318.3,146.7 L319.1,147.4 L320.0,148.2 L320.9,149.0 L321.7,149.9 L322.6,150.8 L323.5,151.7 L324.3,152.7 L325.2,153.6 L326.1,154.5 L326.9,155.4 L327.8,156.3 L328.7,157.3 L329.5,158.3 L330.4,159.3 L331.3,160.4 L332.1,161.4 L333.0,162.5 L333.9,163.6 L334.7,164.7 L335.6,165.7 L336.5,166.8 L337.3,167.9 L338.2,168.9 L339.1,169.9 L339.9,170.9 L340.8,171.8 L341.7,172.8 L342.5,173.7 L343.4,174.6 L344.3,175.5 L345.1,176.4 L346.0,177.3 L346.9,178.3 L347.7,179.1 L348.6,180.0 L349.5,180.9 L350.3,181.8 L351.2,182.6 L352.1,183.5 L352.9,184.3 L353.8,185.2 L354.6,186.0 L355.5,186.8 L356.4,187.5 L357.2,188.3 L358.1,189.1 L359.0,189.8 L359.8,190.5 L360.7,191.2 L361.6,191.9 L362.4,192.5 L363.3,193.1 L364.2,193.7 L365.0,194.3 L365.9,194.9 L366.8,195.4 L367.6,196.0 L368.5,196.6 L369.4,197.2 L370.2,197.8 L371.1,198.4 L372.0,199.0 L372.8,199.5 L373.7,200.0 L374.6,200.4 L375.4,200.7 L376.3,201.0 L377.2,201.3 L378.0,201.5 L378.9,201.7 L379.8,202.0 L380.6,202.2 L381.5,202.5 L382.4,202.7 L383.2,203.0 L384.1,203.2 L385.0,203.4 L385.8,203.6 L386.7,203.8 L387.6,204.0 L388.4,204.2 L389.3,204.4 L390.2,204.7 L391.0,204.9 L391.9,205.0 L392.8,205.2 L393.6,205.3 L394.5,205.4 L395.4,205.4 L396.2,205.4 L397.1,205.4 L398.0,205.4 L398.8,205.4 L399.7,205.4 L400.6,205.4 L401.4,205.4 L402.3,205.4 L403.2,205.4 L404.0,205.4 L404.9,205.4 L405.7,205.4 L406.6,205.4 L407.5,205.4 L408.3,205.4 L409.2,205.4 L410.1,205.4 L410.9,205.4 L411.8,205.4 L412.7,205.4 L413.5,205.4 L414.4,205.4 L415.3,205.4 L416.1,205.4 L417.0,205.4 L417.9,205.4 L418.7,205.4 L419.6,205.4 L420.5,205.4 L421.3,205.4 L422.2,205.4 L423.1,205.4 L423.9,205.4 L424.8,205.4 L425.7,205.4 L426.5,205.3 L427.4,205.3 L428.3,205.3 L429.1,205.3 L430.0,205.3"/></g>
<g><text x="148.2" y="215.7" text-anchor="end">0</text><text x="148.2" y="192.7" text-anchor="end">200</text><text x="148.2" y="169.8" text-anchor="end">400</text><text x="148.2" y="146.8" text-anchor="end">600</text><text x="148.2" y="123.9" text-anchor="end">800</text><text x="148.2" y="100.9" text-anchor="end">1000</text><text x="148.2" y="78.0" text-anchor="end">1200</text><text x="148.2" y="55.0" text-anchor="end">1400</text><text x="148.2" y="32.1" text-anchor="end">1600</text><text x="148.2" y="9.1" text-anchor="end">1800</text></g>
<g><text x="152.8" y="225.4" text-anchor="middle">240</text><text x="187.5" y="225.4" text-anchor="middle">250</text><text x="222.1" y="225.4" text-anchor="middle">260</text><text x="256.8" y="225.4" text-anchor="middle">270</text><text x="291.4" y="225.4" text-anchor="middle">280</text><text x="326.1" y="225.4" text-anchor="middle">290</text><text x="360.7" y="225.4" text-anchor="middle">300</text><text x="395.4" y="225.4" text-anchor="middle">310</text><text x="430.0" y="225.4" text-anchor="middle">320</text></g>
<text x="179.5" y="30">Δλ = 60 nm</text>
<text x="291.9" y="243.8" text-anchor="middle" style="font-size:10.5px">Wavelength (nm)</text>
<text transform="translate(119.2,103.1) rotate(-90)" text-anchor="middle" style="font-size:10.9px">Fluorescence Intensity</text>
<text x="385" y="24" text-anchor="middle">a</text>
<text x="387" y="162.3" text-anchor="middle">h</text>
<g stroke="#444" stroke-width="0.6" fill="#222">
<line x1="291.6" y1="27" x2="291.6" y2="151"/>
<path d="M290.2,150 L291.6,156 L293,150 Z" stroke="none"/>
<line x1="385.2" y1="31" x2="385.2" y2="147"/>
<path d="M383.8,145.5 L385.2,151.5 L386.6,145.5 Z" stroke="none"/>
</g>
</svg>
<div class="cap" id="l1">(a): 3.8 × 10<sup>−6</sup> mol.L<sup>−1</sup> HSA, (b<span class="ar">→</span>h): 3.8 × 10<sup>−6</sup> mol.L<sup>−1</sup> HSA with the addition of 2.0, 4.0, 6.0, 8.0,</div>
<div class="cap" id="l2">10.0, 12.0, 14.0 × 10<sup>−5</sup>mol.L<sup>−1</sup> BZF.</div>
</body></html>
